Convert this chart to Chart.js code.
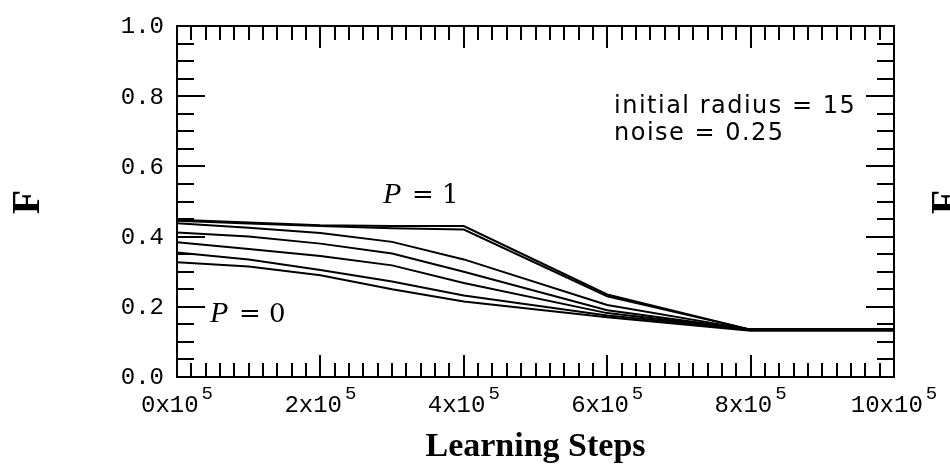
<!DOCTYPE html>
<html>
<head>
<meta charset="utf-8">
<script src="https://cdn.jsdelivr.net/npm/chart.js@4.4.1/dist/chart.umd.min.js"></script>
<style>
    html, body { margin: 0; padding: 0; background: #fff; }
</style>
</head>
<body>
<canvas id="grafico" width="950" height="465"></canvas>
<script>
// Passos de aprendizado (eixo x)
const passos = [0, 100000, 200000, 300000, 400000, 600000, 800000, 1000000];

// F medio para cada valor de P (de P = 1 ate P = 0)
const serie1 = [0.448, 0.440, 0.432, 0.430, 0.430, 0.235, 0.135, 0.135];
const serie2 = [0.445, 0.437, 0.430, 0.424, 0.420, 0.230, 0.135, 0.135];
const serie3 = [0.438, 0.425, 0.410, 0.385, 0.335, 0.205, 0.135, 0.135];
const serie4 = [0.412, 0.400, 0.380, 0.352, 0.300, 0.190, 0.135, 0.135];
const serie5 = [0.384, 0.365, 0.345, 0.318, 0.268, 0.182, 0.135, 0.135];
const serie6 = [0.355, 0.335, 0.305, 0.272, 0.232, 0.175, 0.135, 0.135];
const serie7 = [0.327, 0.315, 0.290, 0.250, 0.215, 0.170, 0.132, 0.132];
const series = [serie1, serie2, serie3, serie4, serie5, serie6, serie7];

// Rotulos dos eixos
const valoresY = [0, 0.2, 0.4, 0.6, 0.8, 1.0];
const rotulosY = ['0.0', '0.2', '0.4', '0.6', '0.8', '1.0'];
const valoresX = [0, 200000, 400000, 600000, 800000, 1000000];
const rotulosX = ['0x10', '2x10', '4x10', '6x10', '8x10', '10x10'];
const expoenteX = '5';

// Moldura, ticks para dentro e textos
const moldura = {
    id: 'moldura',
    afterDraw(chart) {
        const { ctx, chartArea: a, scales: { x, y } } = chart;
        ctx.save();
        ctx.strokeStyle = '#000';
        ctx.fillStyle = '#000';
        ctx.lineWidth = 2;

        const linha = (x1, y1, x2, y2) => {
            ctx.beginPath();
            ctx.moveTo(x1, y1);
            ctx.lineTo(x2, y2);
            ctx.stroke();
        };

        ctx.strokeRect(a.left, a.top, a.right - a.left, a.bottom - a.top);

        // ticks do eixo x: menores a cada 2x10^4, maiores a cada 2x10^5
        for (let v = 0; v <= 1000000; v += 20000) {
            const px = Math.round(x.getPixelForValue(v));
            const tam = v % 200000 === 0 ? 22 : 14;
            linha(px, a.bottom, px, a.bottom - tam);
            linha(px, a.top, px, a.top + tam);
        }

        // ticks do eixo y: menores a cada 0.05, maiores a cada 0.2
        for (let i = 0; i <= 20; i++) {
            const py = Math.round(y.getPixelForValue(i * 0.05));
            const tam = i % 4 === 0 ? 28 : 17;
            linha(a.left, py, a.left + tam, py);
            linha(a.right, py, a.right - tam, py);
        }

        // rotulos do eixo y
        ctx.font = '24px "Liberation Mono"';
        ctx.textAlign = 'right';
        ctx.textBaseline = 'middle';
        valoresY.forEach((v, i) => {
            ctx.fillText(rotulosY[i], a.left - 13, y.getPixelForValue(v) + 1);
        });

        // rotulos do eixo x com expoente
        ctx.textBaseline = 'alphabetic';
        ctx.textAlign = 'left';
        valoresX.forEach((v, i) => {
            ctx.font = '24px "Liberation Mono"';
            const w1 = ctx.measureText(rotulosX[i]).width;
            ctx.font = '19px "Liberation Mono"';
            const w2 = ctx.measureText(expoenteX).width;
            const inicio = x.getPixelForValue(v) - (w1 + w2 + 3) / 2;
            ctx.font = '24px "Liberation Mono"';
            ctx.fillText(rotulosX[i], inicio, a.bottom + 35);
            ctx.font = '19px "Liberation Mono"';
            ctx.fillText(expoenteX, inicio + w1 + 3, a.bottom + 22);
        });

        // titulo do eixo x
        ctx.font = 'bold 34px "Liberation Serif"';
        ctx.textAlign = 'center';
        ctx.fillText('Learning Steps', (a.left + a.right) / 2, 456);

        // titulo do eixo y (e o do painel vizinho, cortado na borda)
        [29, 948].forEach(cx => {
            ctx.save();
            ctx.translate(cx, 202);
            ctx.rotate(-Math.PI / 2);
            ctx.font = 'bold 40px "Liberation Serif"';
            ctx.textAlign = 'center';
            ctx.textBaseline = 'middle';
            ctx.fillText('F', 0, 0);
            ctx.restore();
        });

        // parametros da simulacao
        ctx.font = '24px "DejaVu Sans"';
        ctx.textAlign = 'left';
        ctx.letterSpacing = '1.5px';
        ctx.fillText('initial radius = 15', 614, 113);
        ctx.fillText('noise = 0.25', 614, 140);
        ctx.letterSpacing = '0px';

        // rotulos P = 1 e P = 0
        const rotuloP = (px, py, valor) => {
            ctx.font = 'italic 30px "Liberation Serif"';
            ctx.fillText('P', px, py);
            ctx.font = '26px "DejaVu Serif"';
            ctx.fillText('= ' + valor, px + 29, py);
        };
        rotuloP(383, 203, '1');
        rotuloP(210, 322, '0');

        ctx.restore();
    }
};

const ctx = document.getElementById('grafico').getContext('2d');
new Chart(ctx, {
    type: 'line',
    data: {
        datasets: series.map(s => ({
            data: passos.map((p, i) => ({ x: p, y: s[i] })),
            borderColor: '#000',
            borderWidth: 2,
            pointRadius: 0,
            fill: false,
            tension: 0
        }))
    },
    options: {
        responsive: false,
        animation: false,
        layout: { padding: { left: 177, right: 56, top: 26, bottom: 88 } },
        plugins: {
            legend: { display: false },
            tooltip: { enabled: false }
        },
        scales: {
            x: { type: 'linear', min: 0, max: 1000000, display: false },
            y: { type: 'linear', min: 0, max: 1, display: false }
        }
    },
    plugins: [moldura]
});
</script>
</body>
</html>
